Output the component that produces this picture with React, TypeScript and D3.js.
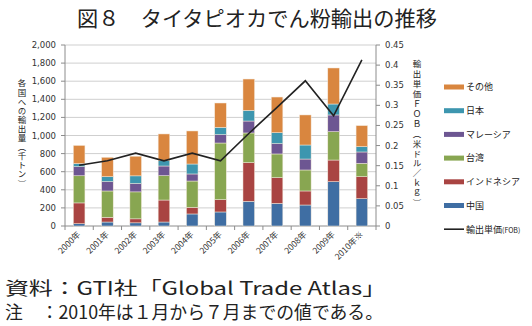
import React from "react";
import * as d3 from "d3";

const years = ["2000年", "2001年", "2002年", "2003年", "2004年", "2005年", "2006年", "2007年", "2008年", "2009年", "2010年※"];
const china = [25, 44, 35, 44, 133, 155, 273, 250, 232, 490, 302];
const indonesia = [230, 52, 44, 243, 73, 136, 427, 284, 155, 239, 243];
const taiwan = [300, 291, 298, 269, 291, 626, 328, 262, 232, 313, 147];
const malaysia = [100, 103, 92, 107, 78, 92, 132, 114, 121, 185, 126];
const japan = [35, 55, 85, 59, 110, 81, 118, 121, 155, 121, 59];
const other = [200, 214, 217, 295, 365, 269, 346, 394, 332, 398, 232];
const unitPrice = [0.151, 0.162, 0.181, 0.162, 0.181, 0.162, 0.23, 0.295, 0.361, 0.274, 0.413];
const leftTicks = [0, 200, 400, 600, 800, 1000, 1200, 1400, 1600, 1800, 2000];
const rightTicks = [0, 0.05, 0.1, 0.15, 0.2, 0.25, 0.3, 0.35, 0.4, 0.45];

const seriesNames = ["中国", "インドネシア", "台湾", "マレーシア", "日本", "その他"];
const seriesValues = [china, indonesia, taiwan, malaysia, japan, other];
const colors = ["#3F6EA3", "#A94442", "#88A651", "#6D5692", "#3D96AF", "#D9863F"];

const leftTitle = "各国への輸出量（千トン）";
const rightTitle = "輸出単価ＦＯＢ（米ドル／ｋｇ）";

const W = 532, H = 326;
const L = 65, R = 376, T = 45, B = 226;
const jp = "'Noto Sans CJK JP', 'Noto Sans', sans-serif";
const num = "'DejaVu Sans', 'Noto Sans', sans-serif";

export default function App() {
  const x = d3.scaleBand<string>().domain(years).range([L, R]).paddingInner(0.59).paddingOuter(0.295);
  const step = x.step();
  const yL = d3.scaleLinear().domain([0, 2000]).range([B, T]);
  const yR = d3.scaleLinear().domain([0, 0.45]).range([B, T]);

  const rows = years.map((yr, i) => {
    const r: any = { year: yr };
    seriesNames.forEach((s, k) => (r[s] = seriesValues[k][i]));
    return r;
  });
  const stacked = d3.stack<any>().keys(seriesNames)(rows);

  const line = d3
    .line<number>()
    .x((_, i) => (x(years[i]) as number) + x.bandwidth() / 2)
    .y((d) => yR(d));

  const legendItems = [...seriesNames.map((s, k) => ({ name: s, color: colors[k] })).reverse()];
  const vstyle: any = { writingMode: "vertical-rl", textOrientation: "mixed" };

  return (
    <svg width={W} height={H} style={{ position: "absolute", left: 0, top: 0, background: "#fff" }}>
      <rect width={W} height={H} fill="#fff" />
      {/* title */}
      <text x={77} y={26} fontFamily={jp} fontSize={21} fill="#222" textLength={360} lengthAdjust="spacingAndGlyphs">
        図８　タイタピオカでん粉輸出の推移
      </text>

      {/* gridlines */}
      {leftTicks.map((t) => (
        <line key={"g" + t} x1={L} x2={R} y1={yL(t)} y2={yL(t)} stroke={t === 0 ? "#8c8c8c" : "#cfcfcf"} strokeWidth={1} />
      ))}
      {/* axes */}
      <line x1={L} x2={L} y1={T} y2={B} stroke="#8c8c8c" />
      <line x1={R} x2={R} y1={T} y2={B} stroke="#8c8c8c" />
      {leftTicks.map((t) => (
        <g key={"l" + t}>
          <line x1={L - 4} x2={L} y1={yL(t)} y2={yL(t)} stroke="#8c8c8c" />
          <text x={56} y={yL(t) + 3} textAnchor="end" fontFamily={num} fontSize={8.5} fill="#333">
            {d3.format(",")(t)}
          </text>
        </g>
      ))}
      {rightTicks.map((t) => (
        <g key={"r" + t}>
          <line x1={R} x2={R + 4} y1={yR(t)} y2={yR(t)} stroke="#8c8c8c" />
          <text x={385} y={yR(t) + 3} textAnchor="start" fontFamily={num} fontSize={8.5} fill="#333">
            {t === 0 ? "0" : String(t)}
          </text>
        </g>
      ))}
      {years.map((yr, i) => (
        <line key={"xt" + i} x1={L + step * (i + 1)} x2={L + step * (i + 1)} y1={B} y2={B + 4} stroke="#8c8c8c" />
      ))}
      <line x1={L} x2={L} y1={B} y2={B + 4} stroke="#8c8c8c" />

      {/* bars */}
      {stacked.map((s, k) => (
        <g key={s.key}>
          {s.map((d, i) => (
            <rect
              key={i}
              x={x(years[i])}
              width={x.bandwidth()}
              y={yL(d[1])}
              height={yL(d[0]) - yL(d[1])}
              fill={colors[k]}
              stroke="#f3e9dc"
              strokeWidth={0.5}
            />
          ))}
        </g>
      ))}

      {/* price line */}
      <path d={line(unitPrice) || ""} fill="none" stroke="#222" strokeWidth={1.6} />

      {/* x labels */}
      {years.map((yr) => {
        const cx = (x(yr) as number) + x.bandwidth() / 2 + 2;
        return (
          <text
            key={"xl" + yr}
            transform={`translate(${cx},${B + 9}) rotate(-45)`}
            textAnchor="end"
            fontFamily={jp}
            fontSize={8.5}
            fill="#333"
          >
            {yr}
          </text>
        );
      })}

      {/* axis titles (vertical writing) */}
      <text x={22} y={79} fontFamily={jp} fontSize={8.5} fill="#222" letterSpacing={0.6} style={vstyle}>
        {leftTitle}
      </text>
      <text x={417} y={60} fontFamily={jp} fontSize={8.5} fill="#222" letterSpacing={1.4} style={vstyle}>
        {rightTitle}
      </text>

      {/* legend */}
      {legendItems.map((it, i) => (
        <g key={"lg" + it.name}>
          <rect x={444} y={87 + i * 23.7 - 2.5} width={20} height={5} fill={it.color} />
          <text x={466} y={87 + i * 23.7 + 3.3} fontFamily={jp} fontSize={9} fill="#222">
            {it.name}
          </text>
        </g>
      ))}
      <line x1={444} x2={464} y1={87 + 6 * 23.7} y2={87 + 6 * 23.7} stroke="#222" strokeWidth={1.6} />
      <text x={466} y={87 + 6 * 23.7 + 3.3} fontFamily={jp} fontSize={9} fill="#222">
        輸出単価<tspan fontSize={7}>(FOB)</tspan>
      </text>

      {/* footer */}
      <text x={5} y={295} fontFamily={jp} fontSize={18} fill="#222" textLength={381} lengthAdjust="spacingAndGlyphs">
        資料：GTI社「Global Trade Atlas」
      </text>
      <text x={5} y={319} fontFamily={jp} fontSize={18} fill="#222" textLength={378} lengthAdjust="spacingAndGlyphs">
        注　：2010年は１月から７月までの値である。
      </text>
    </svg>
  );
}
